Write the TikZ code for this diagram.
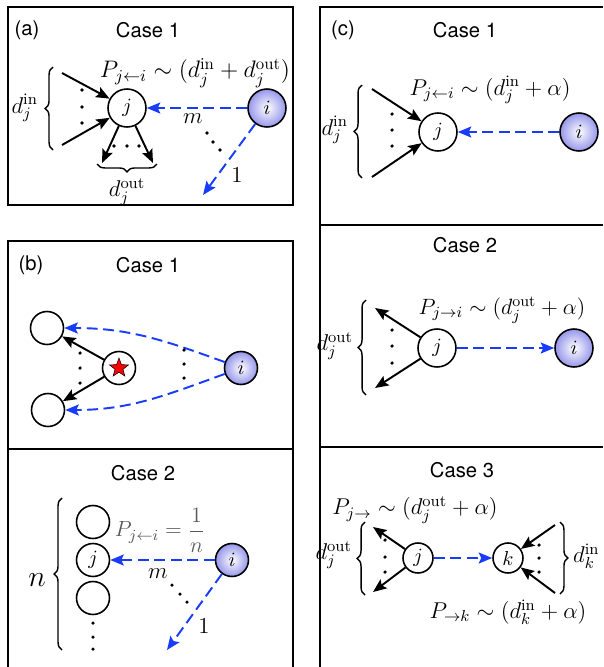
\RequirePackage{fix-cm}
\documentclass[tikz,border=0pt]{standalone}
\usepackage{fontspec}
\newfontfamily\casefont{TeX Gyre Heros}
\usepackage{amsmath}
\usetikzlibrary{arrows.meta, positioning, calc, decorations.pathreplacing, shapes.geometric}
\definecolor{linkblue}{RGB}{25,60,250}
\definecolor{ballblue}{RGB}{150,150,235}

\begin{document}
\begin{tikzpicture}[
		x=0.02cm, y=-0.02cm,
		>={Stealth[length=2.7mm, width=2.2mm, inset=0.5mm]},
		panel/.style={line width=0.9pt},
		casetitle/.style={font=\casefont\fontsize{11.5}{13}\selectfont},
		vertex/.style={draw, circle, line width=0.9pt, minimum size=0.76cm,
			inner sep=0pt, fill=white, font=\fontsize{11.5}{13}\selectfont},
		ball/.style={vertex, inner color=white, outer color=ballblue},
		edge/.style={->, line width=1.1pt},
		link/.style={->, linkblue, line width=1.1pt, dash pattern=on 0.22cm off 0.11cm},
		eq/.style={font=\fontsize{13}{15}\selectfont},
		big/.style={font=\fontsize{13}{15}\selectfont},
		brc/.style={decorate, decoration={brace, amplitude=4.5pt}, line width=0.8pt}
	]
	\useasboundingbox (0,0) rectangle (603,667);

	% (a)
	\draw[panel] (8,7) rectangle (293,205);
	\node[casetitle] (atag) at (27,30) {(a)};
	\node[casetitle] (acase) at (148,30) {Case 1};
	\node[vertex] (aj) at (127,108) {$j$};
	\node[ball] (ai) at (267,108) {$i$};
	\coordinate (ain1) at (62,73);
	\coordinate (ain2) at (62,145);
	\coordinate (aout1) at (102,163);
	\coordinate (aout2) at (153,163);
	\coordinate (aend) at (203,195);
	\draw[edge] (ain1) -- (aj);
	\draw[edge] (ain2) -- (aj);
	\draw[edge] (aj) -- (aout1);
	\draw[edge] (aj) -- (aout2);
	\foreach \y in {90,107,123} \fill (82,\y) circle (1pt);
	\foreach \x in {114,127,139} \fill (\x,146) circle (1pt);
	\draw[brc] (53,150) -- (53,67);
	\draw[brc] (157,164) -- (97,164);
	\node[eq, anchor=east] (adin) at (44,108) {$d_j^{\mathrm{in}}$};
	\node[eq, anchor=north] (adout) at (127,172) {$d_j^{\mathrm{out}}$};
	\node[eq, font=\fontsize{13.6}{16}\selectfont] (aprob) at (195,73) {$P_{j\leftarrow i}\sim(d_j^{\mathrm{in}}+d_j^{\mathrm{out}})$};
	\draw[link] (ai) -- (aj);
	\draw[link] (ai) -- (aend);
	\node[big] (am) at (193,119) {$m$};
	\node[big] (aone) at (237,175) {$1$};
	\foreach \p in {(207,133),(213,142),(220,150)} \fill \p circle (1pt);

	% (b)
	\draw[panel] (8,667) -- (8,241) -- (293,241) -- (293,667);
	\draw[panel] (8,449) -- (293,449);
	\node[casetitle] (btag) at (31,265) {(b)};
	\node[casetitle] (bcase1) at (148,265) {Case 1};
	\node[vertex, minimum size=0.66cm] (btop) at (47,328) {};
	\node[vertex, minimum size=0.66cm] (bbot) at (48,410) {};
	\node[vertex, minimum size=0.66cm] (bhub) at (119,368) {};
	\node[star, star points=5, star point ratio=2.4, draw, fill=red, line width=0.3pt,
		inner sep=0pt, minimum size=0.4cm] (bstar) at (bhub) {};
	\node[ball, minimum size=0.66cm] (bi) at (241,368) {$i$};
	\draw[edge] (bhub) -- (btop);
	\draw[edge] (bhub) -- (bbot);
	\draw[link] (bi.160) to[out=160, in=0] (btop);
	\draw[link] (bi.200) to[out=200, in=0] (bbot);
	\foreach \y in {353,368,383} \fill (80,\y) circle (1pt);
	\foreach \y in {350,364,378} \fill (184,\y) circle (1pt);

	\node[casetitle] (bcase2) at (143,473) {Case 2};
	\node[vertex, minimum size=0.66cm] (bc1) at (93,522) {};
	\node[vertex, minimum size=0.66cm] (bj) at (93,560) {$j$};
	\node[vertex, minimum size=0.66cm] (bc3) at (93,598) {};
	\node[ball, minimum size=0.66cm] (bci) at (232,560) {$i$};
	\coordinate (bend) at (167,650);
	\foreach \y in {623,637,649} \fill (93,\y) circle (1pt);
	\draw[brc] (62,650) -- (62,498);
	\node[font=\fontsize{17}{20}\selectfont] (bn) at (37,580) {$n$};
	\node[eq, font=\fontsize{12.5}{15}\selectfont, text=black!65] (bprob) at (160,530) {$P_{j\leftarrow i}=\dfrac{1}{n}$};
	\draw[link] (bci) -- (bj);
	\draw[link] (bci) -- (bend);
	\node[big] (bm) at (158,574) {$m$};
	\node[big] (bone) at (204,626) {$1$};
	\foreach \p in {(172,585),(180,594),(187,602)} \fill \p circle (1pt);

	% (c)
	\draw[panel] (603,7) -- (320,7) -- (320,667);
	\draw[panel] (320,225) -- (603,225);
	\draw[panel] (320,447) -- (603,447);
	\node[casetitle] (ctag) at (343,30) {(c)};
	\node[casetitle] (ccase1) at (465,30) {Case 1};
	\node[vertex] (cj) at (438,132) {$j$};
	\node[ball] (ci) at (579,132) {$i$};
	\coordinate (cin1) at (372,89);
	\coordinate (cin2) at (372,177);
	\draw[edge] (cin1) -- (cj);
	\draw[edge] (cin2) -- (cj);
	\foreach \y in {114,130,146} \fill (392,\y) circle (1pt);
	\draw[brc] (362,178) -- (362,85);
	\node[eq, anchor=east] (cdin) at (354,130) {$d_j^{\mathrm{in}}$};
	\node[eq] (cprob) at (490,90) {$P_{j\leftarrow i}\sim(d_j^{\mathrm{in}}+\alpha)$};
	\draw[link] (ci) -- (cj);

	\node[casetitle] (ccase2) at (465,245) {Case 2};
	\node[vertex] (c2j) at (437,348) {$j$};
	\node[ball] (c2i) at (574,348) {$i$};
	\coordinate (c2out1) at (375,308);
	\coordinate (c2out2) at (375,388);
	\draw[edge] (c2j) -- (c2out1);
	\draw[edge] (c2j) -- (c2out2);
	\foreach \y in {330,346,363} \fill (392,\y) circle (1pt);
	\draw[brc] (366,395) -- (366,300);
	\node[eq, anchor=east] (c2dout) at (359,346) {$d_j^{\mathrm{out}}$};
	\node[eq, font=\fontsize{12.6}{15}\selectfont] (c2prob) at (502,310) {$P_{j\rightarrow i}\sim(d_j^{\mathrm{out}}+\alpha)$};
	\draw[link] (c2j) -- (c2i);

	\node[casetitle] (ccase3) at (462,470) {Case 3};
	\node[eq] (c3prob1) at (415,510) {$P_{j\rightarrow}\sim(d_j^{\mathrm{out}}+\alpha)$};
	\node[vertex, minimum size=0.6cm] (c3j) at (418,558) {$j$};
	\node[vertex, minimum size=0.6cm] (c3k) at (508,558) {$k$};
	\coordinate (c3out1) at (373,527);
	\coordinate (c3out2) at (373,592);
	\coordinate (c3in1) at (555,525);
	\coordinate (c3in2) at (555,593);
	\draw[edge] (c3j) -- (c3out1);
	\draw[edge] (c3j) -- (c3out2);
	\draw[edge] (c3in1) -- (c3k);
	\draw[edge] (c3in2) -- (c3k);
	\foreach \y in {540,557,572} \fill (385,\y) circle (1pt);
	\foreach \y in {545,558,572} \fill (539,\y) circle (1pt);
	\draw[brc] (365,595) -- (365,522);
	\draw[brc] (560,522) -- (560,594);
	\node[eq, anchor=east] (c3dout) at (358,555) {$d_j^{\mathrm{out}}$};
	\node[eq, anchor=west] (c3din) at (567,556) {$d_k^{\mathrm{in}}$};
	\node[eq] (c3prob2) at (508,612) {$P_{\rightarrow k}\sim(d_k^{\mathrm{in}}+\alpha)$};
	\draw[link] (c3j) -- (c3k);
\end{tikzpicture}
\end{document}
